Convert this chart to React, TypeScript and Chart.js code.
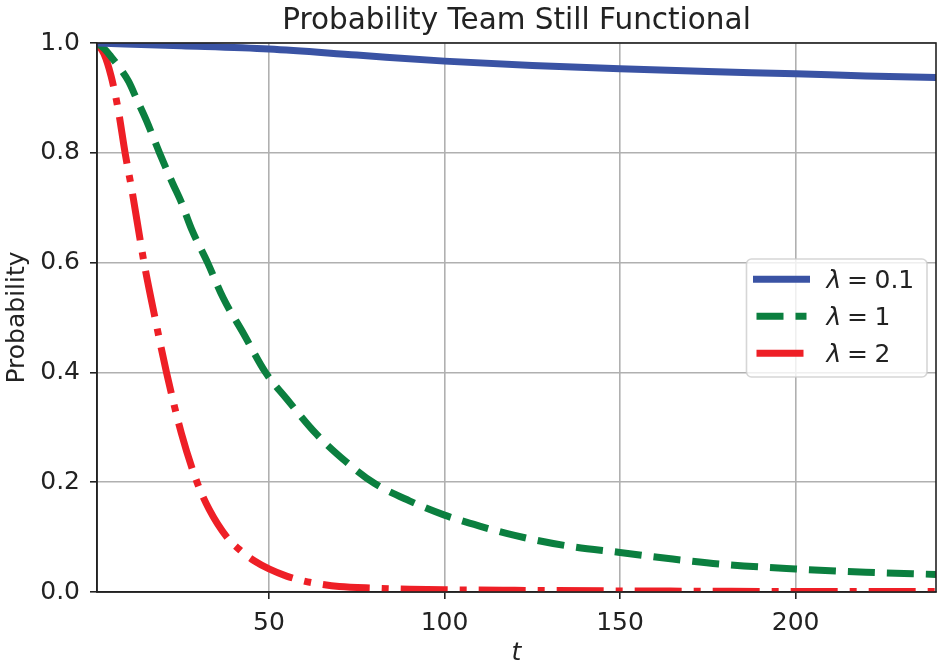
import { useEffect, useRef } from "react"
import { Chart, registerables } from "chart.js"

Chart.register(...registerables)

const chartTitle = "Probability Team Still Functional"
const xLabel = "t"
const yLabel = "Probability"
const xTicks = [50, 100, 150, 200]
const yTicks = [0, 0.2, 0.4, 0.6, 0.8, 1.0]

const seriesNames = ["λ = 0.1", "λ = 1", "λ = 2"]
const seriesColors = ["#3a53a4", "#0b7f3f", "#ee1f26"]

// λ = 0.1
const tSlow = [1, 25, 50, 75, 100, 125, 150, 175, 200, 220, 240]
const pSlow = [1.0, 0.995, 0.989, 0.978, 0.967, 0.959, 0.953, 0.948, 0.944, 0.94, 0.937]

// λ = 1
const tMid = [1, 3, 5, 8, 10, 12.5, 15, 18.8, 22.5, 25, 28, 32.5, 37, 42.8, 49, 55, 63.6, 72, 80, 90, 100, 110, 120, 135, 150, 165, 180, 200, 220, 240]
const pMid = [1.0, 0.99, 0.975, 0.95, 0.93, 0.895, 0.86, 0.8, 0.745, 0.71, 0.66, 0.6, 0.535, 0.47, 0.4, 0.352, 0.287, 0.237, 0.198, 0.166, 0.14, 0.12, 0.103, 0.084, 0.072, 0.06, 0.05, 0.042, 0.036, 0.032]

// λ = 2
const tFast = [1, 3, 5, 7, 9, 11, 14.4, 17.5, 20.8, 25, 29.5, 33, 38, 42, 46, 50, 55, 60, 65, 70, 80, 90, 100, 120, 150, 200, 240]
const pFast = [1.0, 0.98, 0.94, 0.88, 0.8, 0.73, 0.6, 0.5, 0.4, 0.29, 0.2, 0.15, 0.1, 0.075, 0.056, 0.042, 0.029, 0.02, 0.014, 0.01, 0.007, 0.005, 0.004, 0.003, 0.002, 0.001, 0.001]

const family = "'DejaVu Sans', sans-serif"
const ink = "#222"

const toPoints = (ts: number[], ps: number[]) => ts.map((t, i) => ({ x: t, y: ps[i] }))

// titel, spines boven/rechts en legenda zoals matplotlib
const decorPlugin = {
  id: "decor",
  afterDatasetsDraw(chart: any) {
    const { ctx, chartArea: a } = chart
    ctx.save()
    ctx.strokeStyle = ink
    ctx.lineWidth = 1.6
    ctx.strokeRect(a.left, a.top, a.right - a.left, a.bottom - a.top)

    ctx.fillStyle = ink
    ctx.font = `29.5px ${family}`
    ctx.textAlign = "center"
    ctx.textBaseline = "alphabetic"
    ctx.fillText(chartTitle, (a.left + a.right) / 2, 28.5)

    // legenda
    const bx = 746.5, by = 259, bw = 180.5, bh = 118
    ctx.beginPath()
    ctx.roundRect(bx, by, bw, bh, 5)
    ctx.fillStyle = "rgba(255,255,255,0.8)"
    ctx.fill()
    ctx.strokeStyle = "rgba(204,204,204,0.8)"
    ctx.lineWidth = 1.6
    ctx.stroke()

    const partX = [826.5, 847, 874.5]
    chart.data.datasets.forEach((ds: any, i: number) => {
      const y = 279.3 + i * 37
      ctx.beginPath()
      ctx.setLineDash(ds.borderDash || [])
      ctx.lineCap = ds.borderCapStyle
      ctx.strokeStyle = ds.borderColor
      ctx.lineWidth = ds.borderWidth
      ctx.moveTo(756.5, y)
      ctx.lineTo(806.5, y)
      ctx.stroke()
      ctx.setLineDash([])

      const parts: string[] = String(ds.label).split(" ")
      ctx.fillStyle = ink
      ctx.textAlign = "left"
      parts.forEach((p, j) => {
        ctx.font = j === 0 ? `italic 25px ${family}` : `25px ${family}`
        ctx.fillText(p, partX[j], y + 9)
      })
    })
    ctx.restore()
  },
}

export default function App() {
  const chartRef = useRef<HTMLCanvasElement>(null)
  const chartInstance = useRef<Chart | null>(null)

  useEffect(() => {
    document.body.style.margin = "0"
    if (!chartRef.current) return
    if (chartInstance.current) chartInstance.current.destroy()

    const ctx = chartRef.current.getContext("2d")
    if (!ctx) return

    const line = {
      pointRadius: 0,
      borderWidth: 7,
      fill: false,
      cubicInterpolationMode: "monotone" as const,
      borderJoinStyle: "round" as const,
      clip: 0,
    }

    chartInstance.current = new Chart(ctx, {
      type: "line",
      data: {
        datasets: [
          { ...line, label: seriesNames[0], data: toPoints(tSlow, pSlow), borderColor: seriesColors[0], borderCapStyle: "square" },
          { ...line, label: seriesNames[1], data: toPoints(tMid, pMid), borderColor: seriesColors[1], borderCapStyle: "butt", borderDash: [27, 12] },
          { ...line, label: seriesNames[2], data: toPoints(tFast, pFast), borderColor: seriesColors[2], borderCapStyle: "butt", borderDash: [47, 12, 7, 12] },
        ],
      },
      options: {
        responsive: false,
        animation: false,
        layout: { padding: { top: 43, right: 6, bottom: 0, left: 0 } },
        plugins: {
          legend: { display: false },
          tooltip: { enabled: false },
        },
        scales: {
          x: {
            type: "linear",
            min: 1,
            max: 240,
            afterBuildTicks: (s: any) => {
              s.ticks = xTicks.map((v) => ({ value: v }))
            },
            afterFit: (s: any) => {
              s.height = 75
            },
            grid: { color: "#b0b0b0", lineWidth: 1.6, tickColor: ink, tickLength: 7, tickWidth: 1.6 },
            border: { color: ink, width: 1.6 },
            ticks: { color: ink, font: { family, size: 25 }, padding: 9, maxRotation: 0, autoSkip: false },
            title: {
              display: true,
              text: xLabel,
              color: ink,
              font: { family, size: 25, style: "italic", lineHeight: 1 },
              padding: { top: 0, bottom: 1 },
            },
          },
          y: {
            type: "linear",
            min: 0,
            max: 1,
            afterBuildTicks: (s: any) => {
              s.ticks = yTicks.map((v) => ({ value: v }))
            },
            afterFit: (s: any) => {
              s.width = 97
            },
            grid: { color: "#b0b0b0", lineWidth: 1.6, tickColor: ink, tickLength: 7, tickWidth: 1.6 },
            border: { color: ink, width: 1.6 },
            ticks: {
              color: ink,
              font: { family, size: 25 },
              padding: 10,
              autoSkip: false,
              callback: (v: any) => Number(v).toFixed(1),
            },
            title: {
              display: true,
              text: yLabel,
              color: ink,
              font: { family, size: 25, lineHeight: 1 },
              padding: { top: 4.5, bottom: 0 },
            },
          },
        },
      },
      plugins: [decorPlugin],
    })

    return () => {
      if (chartInstance.current) {
        chartInstance.current.destroy()
        chartInstance.current = null
      }
    }
  }, [])

  return (
    <div style={{ width: 942, height: 667 }}>
      <canvas ref={chartRef} width={942} height={667} style={{ display: "block" }} />
    </div>
  )
}
